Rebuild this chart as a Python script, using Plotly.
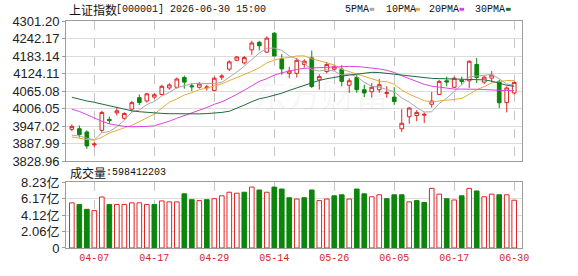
import plotly.graph_objects as go

dates = ["04-01","04-02","04-03","04-07","04-08","04-09","04-10","04-13","04-14","04-15",
         "04-16","04-17","04-20","04-21","04-22","04-23","04-24","04-27","04-28","04-29",
         "04-30","05-06","05-07","05-08","05-11","05-12","05-13","05-14","05-15","05-18",
         "05-19","05-20","05-21","05-22","05-25","05-26","05-27","05-28","05-29","06-01",
         "06-02","06-03","06-04","06-05","06-08","06-09","06-10","06-11","06-12","06-15",
         "06-16","06-17","06-18","06-22","06-23","06-24","06-25","06-26","06-29","06-30"]

opens = [3936.6,3938.5,3927.7,3884.0,3933.3,3970.0,3992.0,3973.7,4004.4,4042.9,
         4032.0,4045.0,4053.7,4076.0,4078.0,4111.0,4083.0,4078.0,4076.0,4067.0,
         4112.0,4139.3,4169.0,4160.0,4204.0,4229.5,4196.5,4260.0,4174.0,4125.0,
         4125.0,4155.0,4177.0,4103.0,4131.0,4139.0,4139.0,4085.0,4111.0,4070.0,
         4063.0,4070.0,4057.0,4045.0,3938.5,3979.0,3983.0,3984.0,4021.0,4054.0,
         4100.0,4078.0,4102.0,4100.0,4155.0,4095.5,4109.0,4098.0,4026.4,4059.0]
highs = [3953.0,3949.7,3933.3,3894.8,3999.1,3979.3,4012.2,3993.5,4032.0,4053.7,
         4059.3,4059.3,4086.6,4092.2,4111.0,4117.6,4092.2,4095.5,4086.6,4114.3,
         4121.8,4168.9,4183.4,4183.4,4234.7,4234.7,4249.2,4264.3,4190.0,4147.2,
         4176.8,4172.2,4201.8,4121.8,4163.6,4152.5,4152.5,4108.6,4119.5,4086.6,
         4092.2,4106.4,4081.4,4078.1,4004.4,4012.2,4001.1,3993.5,4062.6,4103.3,
         4114.3,4114.3,4114.0,4168.9,4176.8,4117.6,4132.7,4103.3,4081.4,4097.8]
lows = [3930.0,3908.9,3870.7,3876.0,3925.4,3955.0,3982.6,3968.0,3996.8,4018.8,
        4026.4,4039.6,4050.4,4070.0,4073.5,4073.5,4065.0,4073.5,4066.9,4065.0,
        4103.0,4132.7,4165.6,4154.8,4187.7,4201.8,4193.3,4183.4,4120.0,4108.6,
        4111.0,4143.9,4075.8,4070.2,4125.1,4132.7,4081.4,4059.3,4059.3,4045.2,
        4042.9,4059.3,4042.9,4018.8,3927.7,3955.0,3963.9,3957.3,4009.9,4051.7,
        4081.4,4075.8,4087.0,4075.8,4092.2,4088.9,4095.5,4007.7,3993.5,4053.7]
closes = [3946.4,3918.8,3880.6,3887.0,3993.5,3966.0,3999.0,3990.0,4026.4,4027.0,
          4056.0,4053.0,4081.4,4086.0,4106.0,4095.5,4080.0,4089.0,4079.0,4108.6,
          4116.0,4163.6,4180.0,4178.0,4227.0,4218.0,4243.6,4183.4,4140.0,4133.0,
          4169.0,4166.0,4081.0,4114.0,4155.0,4147.0,4098.0,4100.0,4070.0,4059.0,
          4078.0,4086.6,4060.0,4030.0,3957.0,4008.0,3993.5,3987.0,4032.0,4098.0,
          4096.0,4108.6,4098.0,4165.6,4111.0,4112.0,4119.5,4026.0,4075.8,4094.5]

ma5 = [3917.0,3914.0,3907.0,3901.0,3925.3,3929.2,3945.2,3967.1,3995.0,4001.7,
       4019.7,4030.5,4048.8,4060.7,4076.5,4084.4,4089.8,4091.3,4089.9,4090.4,
       4094.5,4111.2,4129.4,4149.2,4172.9,4193.3,4209.3,4210.0,4202.4,4183.6,
       4173.8,4158.3,4137.8,4132.6,4137.0,4132.6,4119.0,4122.8,4114.0,4094.8,
       4081.0,4078.7,4070.7,4062.7,4042.3,4028.3,4009.7,3995.1,3995.5,4023.7,
       4041.3,4064.3,4086.5,4113.2,4115.8,4119.0,4121.2,4106.8,4088.9,4085.6]
ma10 = [3911.0,3906.0,3902.0,3900.0,3910.0,3924.0,3934.0,3942.0,3950.0,3963.5,
        3974.4,3987.9,4007.9,4027.8,4039.1,4052.0,4060.1,4070.0,4075.3,4083.5,
        4089.5,4100.5,4110.4,4119.6,4131.7,4143.9,4160.3,4169.7,4175.8,4178.3,
        4183.6,4183.8,4173.9,4167.5,4160.3,4153.2,4138.6,4130.3,4123.3,4115.9,
        4106.8,4098.9,4096.8,4088.4,4068.6,4054.7,4044.2,4032.9,4029.1,4033.0,
        4034.8,4037.0,4040.8,4054.4,4069.8,4080.2,4092.8,4096.7,4101.1,4100.7]
ma20 = [4004.4,3996.8,3985.9,3973.7,3963.9,3955.0,3949.7,3946.4,3945.1,3945.1,
        3946.4,3948.4,3955.0,3963.9,3973.7,3982.6,3991.2,4001.1,4010.0,4021.0,
        4029.0,4041.0,4054.0,4068.0,4083.0,4098.0,4107.0,4119.0,4127.0,4133.0,
        4138.0,4142.0,4143.5,4145.0,4146.5,4148.0,4148.5,4148.5,4148.0,4146.0,
        4144.0,4140.0,4135.0,4128.0,4117.0,4107.0,4097.0,4088.0,4082.0,4078.0,
        4074.5,4072.0,4072.0,4073.0,4071.5,4070.5,4070.5,4068.0,4067.0,4067.0]
ma30 = [4044.5,4037.9,4032.0,4027.4,4021.5,4014.9,4008.3,4002.7,3998.8,3995.8,
        3993.5,3991.5,3990.2,3989.2,3988.6,3987.9,3987.9,3988.6,3989.5,3990.9,
        3993.5,3997.4,4006.7,4018.2,4029.7,4039.6,4044.5,4051.1,4058.3,4067.6,
        4075.8,4084.0,4093.9,4101.1,4107.0,4112.0,4115.3,4119.2,4122.5,4125.8,
        4128.4,4127.8,4125.1,4122.5,4119.2,4115.9,4112.6,4109.3,4108.0,4107.3,
        4106.7,4106.0,4105.4,4104.7,4103.7,4103.1,4098.8,4090.6,4085.0,4081.4]

volumes = [5.65,5.45,4.84,4.68,6.38,5.45,5.45,5.45,5.65,5.65,
           5.45,5.45,5.89,5.77,5.77,6.78,6.05,5.93,6.05,6.17,
           6.53,6.98,6.86,6.98,7.62,7.26,6.98,7.62,7.38,6.29,
           6.13,6.29,7.26,5.93,6.13,6.53,6.66,6.13,7.38,6.78,
           6.41,6.66,6.17,6.66,6.66,5.77,5.93,5.69,7.46,6.74,
           6.17,6.01,6.53,7.46,7.14,6.41,6.74,6.66,6.66,5.98]
vol_up = [1,0,0,1,1,0,1,1,1,1, 1,0,1,1,1,0,0,1,0,1,
          1,1,1,0,1,0,1,0,0,0, 1,0,0,1,1,0,0,1,0,0,
          1,1,0,0,0,1,0,0,1,1, 0,1,0,1,0,1,1,0,1,1]

price_ticks = [3828.96,3887.99,3947.02,4006.05,4065.08,4124.11,4183.14,4242.17,4301.20]
vol_ticks = [0,2.06,4.12,6.17,8.23]
vol_labels = ["0","2.06亿","4.12亿","6.17亿","8.23亿"]
date_ticks = ["04-07","04-17","04-29","05-14","05-26","06-05","06-17","06-30"]
ma_names = ["5PMA","10PMA","20PMA","30PMA"]
ma_colors = ["#a8a8a8","#e8a93a","#e040e0","#1d6b3e"]
title_cn = "上证指数"
title_rest = "[000001] 2026-06-30 15:00"
vol_title = "成交量"
vol_value = ":598412203"
watermark = "东方财富"

RED = "#e02424"
GREEN = "#0b850b"
W, H = 578, 276
ML, MR, MT, MB = 55, 56, 21, 22
PW, PH = W - ML - MR, H - MT - MB

def px(x):
    return (x - ML) / PW

def py(y):
    return (H - MB - y) / PH

fig = go.Figure()

fig.add_annotation(text=watermark, x=px(316), y=py(95), xref="paper", yref="paper",
                   xanchor="center", yanchor="middle", showarrow=False,
                   font=dict(family="Noto Sans CJK SC", size=34, color="rgba(0,0,0,0.055)"))

for vals, name, col in zip([ma5, ma10, ma20, ma30], ma_names, ma_colors):
    fig.add_trace(go.Scatter(x=dates, y=vals, mode="lines", name=name,
                             line=dict(color=col, width=1), xaxis="x", yaxis="y",
                             hoverinfo="skip", showlegend=False))

fig.add_trace(go.Candlestick(x=dates, open=opens, high=highs, low=lows, close=closes,
                             increasing=dict(line=dict(color=RED, width=1), fillcolor="#ffffff"),
                             decreasing=dict(line=dict(color=GREEN, width=1), fillcolor=GREEN),
                             whiskerwidth=0, xaxis="x", yaxis="y", showlegend=False,
                             hoverinfo="skip"))

fig.add_trace(go.Bar(x=dates, y=volumes, xaxis="x2", yaxis="y2", width=0.62,
                     marker=dict(color=["#ffffff" if u else GREEN for u in vol_up],
                                 line=dict(color=[RED if u else GREEN for u in vol_up], width=1)),
                     showlegend=False, hoverinfo="skip"))

grid_h = "#dcdcdc"
grid_v = "#c4c4c4"
frame = "#9c9c9c"
xr = [-0.78, 60.04]
tick_font = dict(family="Liberation Sans, Arial, sans-serif", size=13, color="#222222")

fig.update_layout(
    width=W, height=H, margin=dict(l=ML, r=MR, t=MT, b=MB),
    paper_bgcolor="white", plot_bgcolor="white", bargap=0.3,
    xaxis=dict(type="category", range=xr, domain=[0, 1], anchor="y",
               tickvals=date_ticks, showticklabels=False, ticks="",
               showgrid=True, gridcolor=grid_v, griddash="dash", gridwidth=1,
               showline=True, mirror=True, linecolor=frame, linewidth=1,
               rangeslider=dict(visible=False), fixedrange=True),
    yaxis=dict(domain=[py(165), 1], range=[price_ticks[0], price_ticks[-1]],
               tickvals=price_ticks, ticktext=[f"{v:.2f}" for v in price_ticks],
               showgrid=True, gridcolor=grid_h, gridwidth=1, zeroline=False,
               showline=True, mirror=True, linecolor=frame, linewidth=1,
               ticks="outside", ticklen=3, tickcolor=frame, tickfont=tick_font),
    xaxis2=dict(type="category", range=xr, domain=[0, 1], anchor="y2", matches="x",
                tickvals=date_ticks, ticktext=date_ticks, ticks="",
                tickfont=dict(family="Liberation Mono, monospace", size=10, color="#d81e1e"),
                showgrid=True, gridcolor=grid_v, griddash="dash", gridwidth=1,
                showline=True, mirror=True, linecolor=frame, linewidth=1),
    yaxis2=dict(domain=[0, py(186.5)], range=[0, 8.23],
                tickvals=vol_ticks, ticktext=vol_labels,
                showgrid=True, gridcolor=grid_h, gridwidth=1, zeroline=False,
                showline=True, mirror=True, linecolor=frame, linewidth=1,
                ticks="outside", ticklen=3, tickcolor=frame,
                tickfont=dict(family="Liberation Sans, Noto Sans CJK SC, sans-serif", size=13, color="#222222")),
)

# title texts
fig.add_annotation(text=title_cn, x=px(56), y=py(9), xref="paper", yref="paper",
                   xanchor="left", yanchor="middle", showarrow=False,
                   font=dict(family="Noto Sans CJK SC", size=12, color="#111111"))
fig.add_annotation(text=title_rest, x=px(104), y=py(9.5), xref="paper", yref="paper",
                   xanchor="left", yanchor="middle", showarrow=False,
                   font=dict(family="Liberation Mono, monospace", size=10, color="#111111"))
fig.add_annotation(text=vol_title, x=px(57.5), y=py(176.5), xref="paper", yref="paper",
                   xanchor="left", yanchor="middle", showarrow=False,
                   font=dict(family="Noto Sans CJK SC", size=12, color="#111111"))
fig.add_annotation(text=vol_value, x=px(94), y=py(177), xref="paper", yref="paper",
                   xanchor="left", yanchor="middle", showarrow=False,
                   font=dict(family="Liberation Mono, monospace", size=10, color="#111111"))

# MA legend texts with colour swatches
leg_text_x = [339, 380.7, 425, 471.7]
leg_dash_x = [366, 412.7, 458, 505.7]
for name, col, tx, dx in zip(ma_names, ma_colors, leg_text_x, leg_dash_x):
    fig.add_annotation(text=name, x=px(tx), y=py(9.5), xref="paper", yref="paper",
                       xanchor="left", yanchor="middle", showarrow=False,
                       font=dict(family="Liberation Mono, monospace", size=10, color="#111111"))
    fig.add_shape(type="rect", xref="paper", yref="paper",
                  x0=px(dx), x1=px(dx + 4.7), y0=py(10.5), y1=py(7.5),
                  fillcolor=col, line=dict(width=0))

fig.write_html("out.html")
